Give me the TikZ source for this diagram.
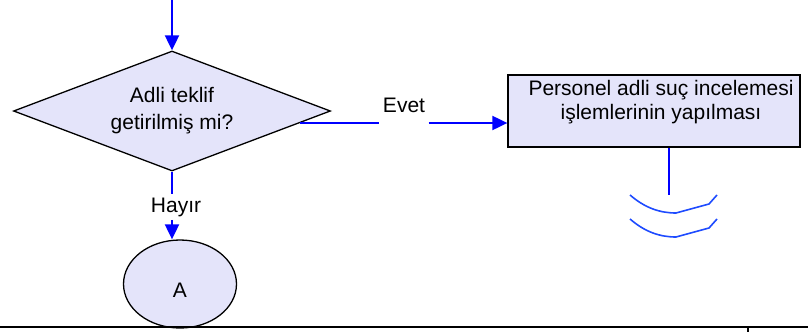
\documentclass[tikz,border=0pt]{standalone}
\usepackage{fontspec}
\setmainfont{Liberation Sans}
\usetikzlibrary{shapes.geometric,arrows.meta}
\definecolor{fillc}{HTML}{E4E4FA}
\definecolor{arr}{HTML}{0000FF}
\definecolor{arcc}{HTML}{1E4BFF}
\begin{document}
\begin{tikzpicture}[x=1pt,y=-1pt,font=\fontsize{21}{24}\selectfont,
  flow/.style={draw=black,line width=1.3pt,fill=fillc},
  conn/.style={draw=arr,line width=2pt},
  arrowline/.style={conn,-{Triangle[length=15pt,width=14pt]}},
  arcline/.style={draw=arcc,line width=1.6pt},
  rule/.style={draw=black,line width=2.5pt}]
\useasboundingbox (0,0) rectangle (808,332);
% nodes
\node[flow,diamond,minimum width=317pt,minimum height=120pt,aspect=2.64,inner sep=0pt,align=center,font=\fontsize{21}{27}\selectfont] (d) at (172,111) {Adli teklif\\getirilmiş mi?};
\node[flow,rectangle,minimum width=292pt,minimum height=72pt] (p) at (654,111) {};
\node[align=center,anchor=north] (pt) at (661,77) {Personel adli suç incelemesi\\işlemlerinin yapılması};
\node[flow,ellipse,minimum width=113pt,minimum height=88pt,inner sep=0pt,text height=27pt] (a) at (180,284) {A};
\node (ev) at (404,105.5) {Evet};
\node (hy) at (176,207) {Hayır};
% coordinates
\coordinate (top) at (172,0);
\coordinate (es) at (300,123);
\coordinate (pe) at (669,195);
% connectors
\draw[arrowline] (top) -- (d.north);
\draw[conn] (es) -- (es -| ev.west);
\draw[arrowline] (es -| ev.east) -- (p.west |- es);
\draw[conn] (d.south) -- (d.south |- hy.north);
\draw[arrowline] (d.south |- hy.south) -- (d.south |- a.north);
\draw[conn] (p.south -| pe) -- (pe);
% continuation marks
\draw[arcline] (630,195) .. controls (645,208) and (660,213) .. (676,213) -- (709,204) -- (717,195);
\draw[arcline] (630,219) .. controls (645,232) and (660,237) .. (676,237) -- (709,228) -- (717,219);
% bottom rule
\draw[rule] (0,327) -- (808,327);
\draw[draw=black,line width=2pt] (748,327) -- (748,332);
\end{tikzpicture}
\end{document}
